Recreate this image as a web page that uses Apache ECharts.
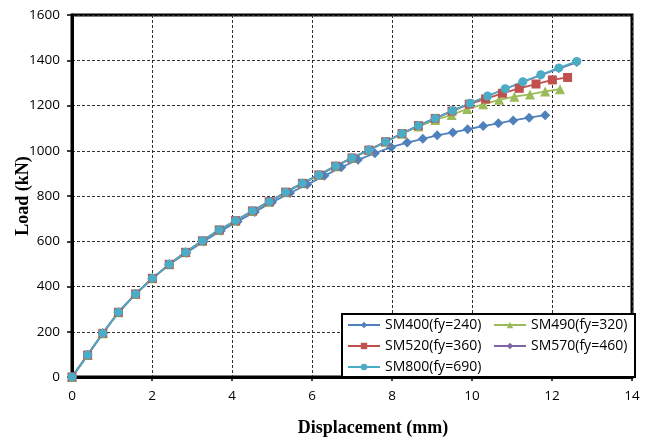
<!DOCTYPE html>
<html>
<head>
<meta charset="utf-8">
<script src="https://cdn.jsdelivr.net/npm/echarts@6/dist/echarts.min.js"></script>
<style>
  html, body { margin: 0; padding: 0; background: #fff; }
  #chart { width: 656px; height: 441px; }
</style>
</head>
<body>
<div id="chart"></div>
<script>
// load-displacement curves
var seriesNames = ['SM400(fy=240)', 'SM490(fy=320)', 'SM520(fy=360)', 'SM570(fy=460)', 'SM800(fy=690)'];

var sm400X = [0, 0.39, 0.77, 1.16, 1.59, 2.01, 2.43, 2.86, 3.29, 3.72, 4.14, 4.57, 5.0, 5.45, 5.88, 6.31, 6.73, 7.15, 7.57, 7.98, 8.38, 8.77, 9.13, 9.52, 9.89, 10.28, 10.66, 11.03, 11.43, 11.83];
var sm400Y = [0, 97, 193, 286, 367, 436, 497, 549, 599, 646, 687, 729, 772, 813, 851, 889, 927, 960, 989, 1016, 1036, 1053, 1068, 1081, 1095, 1109, 1121, 1134, 1146, 1157];

var sm490X = [0, 0.39, 0.77, 1.16, 1.59, 2.01, 2.43, 2.84, 3.26, 3.68, 4.09, 4.51, 4.93, 5.34, 5.76, 6.17, 6.59, 7.0, 7.42, 7.84, 8.25, 8.66, 9.08, 9.49, 9.88, 10.28, 10.68, 11.06, 11.45, 11.83, 12.2];
var sm490Y = [0, 97, 193, 286, 367, 436, 498, 551, 602, 650, 691, 734, 775, 817, 856, 893, 932, 968, 1003, 1040, 1075, 1107, 1136, 1158, 1185, 1205, 1225, 1239, 1249, 1262, 1272];

var sm520X = [0, 0.39, 0.77, 1.16, 1.59, 2.01, 2.43, 2.84, 3.26, 3.68, 4.09, 4.51, 4.93, 5.34, 5.76, 6.17, 6.59, 7.0, 7.42, 7.84, 8.25, 8.66, 9.08, 9.5, 9.93, 10.34, 10.76, 11.18, 11.6, 12.01, 12.39];
var sm520Y = [0, 97, 193, 286, 367, 436, 498, 551, 602, 650, 691, 734, 775, 817, 856, 893, 932, 968, 1003, 1040, 1076, 1111, 1143, 1175, 1206, 1229, 1254, 1276, 1295, 1313, 1324];

var sm570X = [0, 0.39, 0.77, 1.16, 1.59, 2.01, 2.43, 2.84, 3.26, 3.68, 4.09, 4.51, 4.93, 5.34, 5.76, 6.17, 6.59, 7.0, 7.42, 7.84, 8.25, 8.66, 9.08, 9.51, 9.95, 10.39, 10.83, 11.27, 11.72, 12.17, 12.62];
var sm570Y = [0, 97, 193, 286, 367, 436, 498, 551, 602, 650, 691, 734, 775, 817, 856, 893, 932, 968, 1003, 1040, 1076, 1111, 1143, 1177, 1210, 1242, 1273, 1304, 1334, 1363, 1390];

var sm800X = [0, 0.39, 0.77, 1.16, 1.59, 2.01, 2.43, 2.84, 3.26, 3.68, 4.09, 4.51, 4.93, 5.34, 5.76, 6.17, 6.59, 7.0, 7.42, 7.84, 8.25, 8.66, 9.08, 9.51, 9.95, 10.39, 10.83, 11.27, 11.72, 12.17, 12.62];
var sm800Y = [0, 97, 193, 286, 367, 436, 498, 551, 602, 650, 691, 734, 775, 817, 856, 893, 932, 968, 1003, 1040, 1076, 1111, 1143, 1177, 1210, 1242, 1274, 1305, 1336, 1366, 1395];

var colors = ['#4F81BD', '#9BBB59', '#C0504D', '#8064A2', '#4BACC6'];
var symbols = ['diamond', 'triangle', 'rect', 'diamond', 'circle'];
var sizes = [10, 10, 9, 9, 9];

function pairs(xs, ys) {
  var out = [];
  for (var i = 0; i < xs.length; i++) out.push([xs[i], ys[i]]);
  return out;
}

var allData = [
  pairs(sm400X, sm400Y),
  pairs(sm490X, sm490Y),
  pairs(sm520X, sm520Y),
  pairs(sm570X, sm570Y),
  pairs(sm800X, sm800Y)
];

var chart = echarts.init(document.getElementById('chart'));

var gridLine = { show: true, lineStyle: { color: '#333', width: 1, type: [3, 2] } };
var tickFont = { color: '#000', fontFamily: 'Open Sans', fontSize: 13.5 };
var nameFont = { color: '#000', fontFamily: 'Liberation Serif', fontWeight: 'bold', fontSize: 18 };

chart.setOption({
  animation: false,
  backgroundColor: '#fff',
  grid: {
    left: 72, right: 24, top: 15, bottom: 64,
    outerBoundsMode: 'none',
    containLabel: false,
    show: true, borderColor: '#000', borderWidth: 3
  },
  legend: {
    data: seriesNames,
    left: 342, top: 314,
    width: 286,
    padding: [4, 3, 3, 5],
    itemGap: 7,
    itemWidth: 32,
    itemHeight: 8,
    backgroundColor: '#fff',
    borderColor: '#000',
    borderWidth: 2,
    textStyle: { color: '#000', fontFamily: 'Open Sans', fontSize: 14, lineHeight: 14, width: 101 }
  },
  xAxis: {
    type: 'value',
    min: 0, max: 14, interval: 2,
    name: 'Displacement (mm)',
    nameLocation: 'middle',
    nameGap: 42,
    nameMoveOverlap: false,
    nameTextStyle: Object.assign({ padding: [0, 0, 0, 42] }, nameFont),
    axisLine: { show: true, lineStyle: { color: '#000', width: 3 } },
    axisTick: { show: true, inside: false, length: 4, lineStyle: { color: '#000', width: 1.5 } },
    axisLabel: Object.assign({ margin: 12 }, tickFont),
    splitLine: gridLine
  },
  yAxis: {
    type: 'value',
    min: 0, max: 1600, interval: 200,
    name: 'Load (kN)',
    nameLocation: 'middle',
    nameGap: 40,
    nameMoveOverlap: false,
    nameTextStyle: nameFont,
    axisLine: { show: true, lineStyle: { color: '#000', width: 3 } },
    axisTick: { show: true, inside: false, length: 5, lineStyle: { color: '#000', width: 1.5 } },
    axisLabel: Object.assign({ margin: 12, formatter: function (v) { return String(v); } }, tickFont),
    splitLine: gridLine
  },
  series: seriesNames.map(function (name, i) {
    return {
      name: name,
      type: 'line',
      data: allData[i],
      symbol: symbols[i],
      symbolSize: sizes[i],
      showAllSymbol: true,
      lineStyle: { color: colors[i], width: 1.8 },
      itemStyle: { color: colors[i], borderWidth: 0 }
    };
  })
});
</script>
</body>
</html>
